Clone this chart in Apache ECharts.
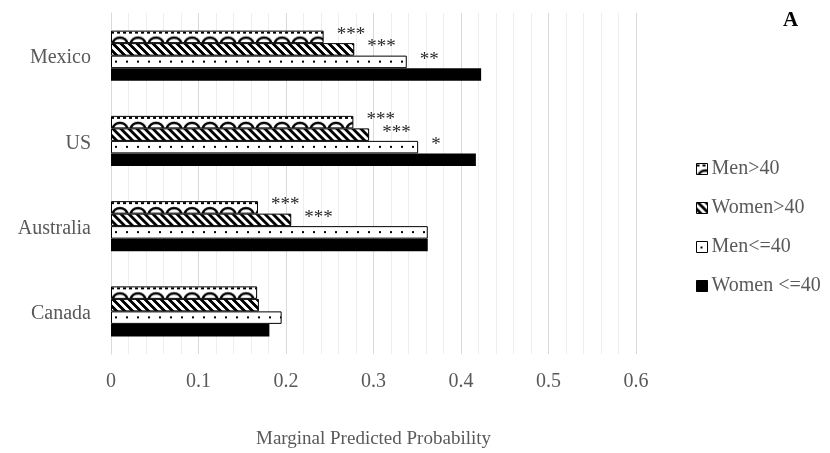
<!DOCTYPE html>
<html>
<head>
<meta charset="utf-8">
<script src="https://cdn.jsdelivr.net/npm/echarts@6/dist/echarts.min.js"></script>
<style>
html,body{margin:0;padding:0;background:#fff;}
#chart{width:830px;height:453px;}
</style>
</head>
<body>
<div id="chart"></div>
<script>
// ---- data ----
const categories = ['Canada', 'Australia', 'US', 'Mexico'];
const seriesNames = ['Men>40', 'Women>40', 'Men<=40', 'Women <=40'];
const menOver40 = [0.167, 0.168, 0.277, 0.243];
const womenOver40 = [0.169, 0.206, 0.295, 0.278];
const menUnder40 = [0.195, 0.362, 0.351, 0.338];
const womenUnder40 = [0.181, 0.362, 0.417, 0.423];
const starsMenOver40 = ['', '***', '***', '***'];
const starsWomenOver40 = ['', '***', '***', '***'];
const starsMenUnder40 = ['', '', '*', '**'];
const starsWomenUnder40 = ['', '', '', ''];
const xTicks = [0, 0.1, 0.2, 0.3, 0.4, 0.5, 0.6];
const xAxisTitle = 'Marginal Predicted Probability';
const panelLetter = 'A';

// ---- patterns ----
function makeTile(w, h, draw) {
  const c = document.createElement('canvas');
  c.width = w; c.height = h;
  const ctx = c.getContext('2d');
  ctx.fillStyle = '#fff';
  ctx.fillRect(0, 0, w, h);
  ctx.fillStyle = '#000';
  ctx.strokeStyle = '#000';
  draw(ctx, w, h);
  return c;
}
const scallop = makeTile(18, 12, (ctx) => {
  for (let x = 0; x < 18; x += 6) ctx.fillRect(x, 1, 3, 2);
  ctx.lineWidth = 2.5;
  ctx.beginPath();
  ctx.ellipse(9, 12.5, 7, 5.5, 0, Math.PI, 2 * Math.PI);
  ctx.stroke();
});
const diagonal = makeTile(8, 8, (ctx) => {
  for (let y = 0; y < 8; y++) for (let x = 0; x < 8; x++) {
    if ((((x - y) % 8) + 8) % 8 < 4) ctx.fillRect(x, y, 1, 1);
  }
});
const dots = makeTile(11, 12, (ctx) => { ctx.fillRect(4, 5, 2, 2); });

const tiles = [scallop, diagonal, dots, null];
const values = [menOver40, womenOver40, menUnder40, womenUnder40];
const stars = [starsMenOver40, starsWomenOver40, starsMenUnder40, starsWomenUnder40];
const BAR_W = 12.5;

const FONT = '"Liberation Serif", "Times New Roman", serif';

const chart = echarts.init(document.getElementById('chart'), null, { renderer: 'canvas' });

function fillFor(i, top) {
  if (!tiles[i]) return '#000';
  const f = { image: tiles[i], repeat: 'repeat' };
  if (top !== undefined) { f.x = 111; f.y = top; }
  return f;
}

const series = seriesNames.map((name, i) => ({
  name: name,
  type: 'bar',
  data: values[i],
  barWidth: BAR_W,
  barGap: '0%',
  itemStyle: {
    color: fillFor(i),
    borderColor: '#000',
    borderWidth: i === 3 ? 0 : 1
  },
  label: {
    show: true,
    position: 'right',
    distance: 13,
    offset: [0, -2],
    fontFamily: FONT,
    fontSize: 19,
    color: '#2a2a2a',
    formatter: (p) => stars[i][p.dataIndex]
  },
  emphasis: { disabled: true },
  animation: false
}));

chart.setOption({
  backgroundColor: '#fff',
  animation: false,
  title: {
    text: panelLetter,
    left: 778,
    top: 5,
    textStyle: { fontFamily: FONT, fontSize: 21, fontWeight: 'bold', color: '#000' }
  },
  legend: {
    orient: 'vertical',
    left: 691,
    top: 154,
    itemWidth: 11,
    itemHeight: 11,
    itemGap: 19,
    textStyle: { fontFamily: FONT, fontSize: 20, color: '#595959', padding: [0, 0, 0, -1] },
    data: seriesNames.map(n => ({ name: n, icon: 'rect', itemStyle: { borderColor: '#000', borderWidth: 1 } }))
  },
  grid: { left: 111, right: 194, top: 13, bottom: 99, containLabel: false, outerBoundsMode: 'none' },
  xAxis: {
    type: 'value',
    min: xTicks[0],
    max: xTicks[xTicks.length - 1],
    interval: 0.1,
    name: xAxisTitle,
    nameLocation: 'middle',
    nameGap: 76,
    nameTextStyle: { fontFamily: FONT, fontSize: 19, color: '#595959' },
    axisLine: { show: false },
    axisTick: { show: false },
    axisLabel: {
      fontFamily: FONT, fontSize: 20, color: '#595959', margin: 18,
      formatter: (v) => String(Math.round(v * 10) / 10)
    },
    splitLine: { show: true, lineStyle: { color: '#d9d9d9', width: 1 } },
    minorTick: { show: false, splitNumber: 5 },
    minorSplitLine: { show: true, lineStyle: { color: '#eeeeee', width: 1 } }
  },
  yAxis: {
    type: 'category',
    data: categories,
    axisLine: { show: true, lineStyle: { color: '#d9d9d9' } },
    axisTick: { show: false },
    axisLabel: {
      margin: 20,
      formatter: (v) => '{a|' + v + '}',
      rich: { a: { fontFamily: FONT, fontSize: 20, color: '#595959', padding: [5, 0, 0, 0] } }
    }
  },
  series: series
});

// anchor each bar's pattern to the bar itself, using the axis scale
const n = seriesNames.length;
chart.setOption({
  series: seriesNames.map((name, i) => ({
    data: values[i].map((v, j) => {
      const cy = chart.convertToPixel({ yAxisIndex: 0 }, categories[j]);
      const top = cy - (n * BAR_W) / 2 + i * BAR_W;
      return { value: v, itemStyle: { color: fillFor(i, top) } };
    })
  }))
});
</script>
</body>
</html>
